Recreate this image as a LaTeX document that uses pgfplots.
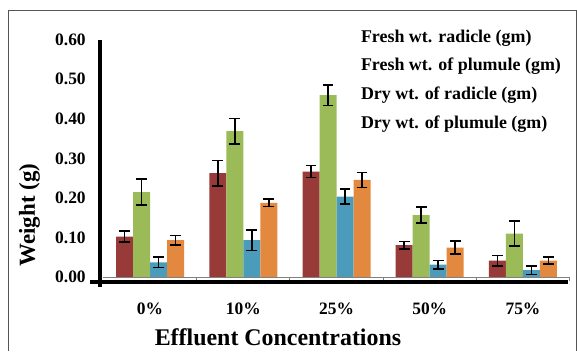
\documentclass[border=0pt]{standalone}
\usepackage{pgfplots}
\usepackage{pgfplotstable}
\pgfplotsset{compat=1.18}
\usepackage{fontspec}
\setmainfont{Liberation Serif}
\definecolor{cRed}{HTML}{983A37}
\definecolor{cGreen}{HTML}{9BBB59}
\definecolor{cBlue}{HTML}{4A9CBA}
\definecolor{cOrange}{HTML}{E2893F}
\definecolor{frameGray}{HTML}{555555}

\pgfplotstableread{
x y e
0 0.103 0.014
1 0.263 0.032
2 0.267 0.015
3 0.081 0.009
4 0.042 0.0135
}\freshRad
\pgfplotstableread{
x y e
0 0.215 0.033
1 0.369 0.032
2 0.460 0.026
3 0.157 0.020
4 0.110 0.0315
}\freshPlu
\pgfplotstableread{
x y e
0 0.038 0.013
1 0.094 0.026
2 0.204 0.019
3 0.032 0.0105
4 0.018 0.011
}\dryRad
\pgfplotstableread{
x y e
0 0.094 0.012
1 0.188 0.0097
2 0.246 0.019
3 0.075 0.016
4 0.042 0.009
}\dryPlu

\begin{document}
\begin{tikzpicture}[x=1bp,y=1bp]
\useasboundingbox (0,0) rectangle (577,351);
% outer frame (partial, as in the reference)
\draw[frameGray, line width=1bp] (8,0) -- (8,340.3) -- (576,340.3) -- (576,0);
\begin{axis}[
  at={(103.4bp,73.7bp)}, anchor=south west,
  scale only axis, width=466.2bp, height=237.6bp,
  xmin=-0.5, xmax=4.5, ymin=0, ymax=0.6,
  clip=false,
  axis line style={draw=none},
  ybar=0pt, bar width=17bp,
  xtick={0,1,2,3,4},
  xticklabels={0\%,10\%,25\%,50\%,75\%},
  major tick length=0pt,
  ytick={0,0.1,0.2,0.3,0.4,0.5,0.6},
  /pgf/number format/fixed, /pgf/number format/fixed zerofill, /pgf/number format/precision=2, /pgf/number format/assume math mode=true,
  tick label style={font=\fontsize{17.5}{20}\selectfont\bfseries},
  xticklabel style={anchor=base, yshift=-37bp, inner sep=0pt},
  yticklabel style={anchor=east, inner sep=0pt, xshift=-17.5bp},
  xlabel={Effluent Concentrations},
  ylabel={Weight (g)},
  xlabel style={at={(axis description cs:0.3745,-0.2513)}, anchor=center, font=\fontsize{24}{28}\selectfont\bfseries},
  ylabel style={at={(axis description cs:-0.1587,0.2622)}, anchor=center, font=\fontsize{23}{27}\selectfont\bfseries},
  legend image code/.code={},
  legend cell align=left,
  legend style={draw=none, fill=white, inner sep=0pt, outer sep=0pt,
    at={(axis description cs:0.5526,1.045)}, anchor=north west,
    font=\fontsize{18}{21}\selectfont\bfseries,
    row sep=11.7bp, column sep=0pt,
    nodes={inner sep=0pt, text height=13bp, text depth=4bp}},
  error bars/error bar style={line width=1.6bp, black},
  error bars/error mark options={rotate=90, mark size=5.3bp, line width=1.6bp, black},
]
\addplot[fill=cRed, draw=none, error bars/.cd, y dir=both, y explicit] table[x=x, y=y, y error=e]{\freshRad};
\addplot[fill=cGreen, draw=none, error bars/.cd, y dir=both, y explicit] table[x=x, y=y, y error=e]{\freshPlu};
\addplot[fill=cBlue, draw=none, error bars/.cd, y dir=both, y explicit] table[x=x, y=y, y error=e]{\dryRad};
\addplot[fill=cOrange, draw=none, error bars/.cd, y dir=both, y explicit] table[x=x, y=y, y error=e]{\dryPlu};
\legend{Fresh wt. radicle (gm), Fresh wt. of plumule (gm), Dry wt. of radicle (gm), Dry wt. of plumule (gm)}
% thin baseline with group separators
\draw[gray, line width=0.8bp] (axis cs:-0.5,0) -- (axis cs:4.5,0);
\draw[gray, line width=0.8bp] (axis cs:0.5,0) -- ([yshift=-4bp]axis cs:0.5,0);
\draw[gray, line width=0.8bp] (axis cs:1.5,0) -- ([yshift=-4bp]axis cs:1.5,0);
\draw[gray, line width=0.8bp] (axis cs:2.5,0) -- ([yshift=-4bp]axis cs:2.5,0);
\draw[gray, line width=0.8bp] (axis cs:3.5,0) -- ([yshift=-4bp]axis cs:3.5,0);
\draw[gray, line width=0.8bp] (axis cs:4.5,0) -- ([yshift=-4bp]axis cs:4.5,0);
% thick axis lines
\draw[black, line width=4bp] ([xshift=-3bp]axis cs:-0.5,0.6) -- ([xshift=-3bp]axis cs:-0.5,-0.025);
\draw[black, line width=4bp] ([xshift=-13bp,yshift=-4.4bp]axis cs:-0.5,0) -- ([xshift=-2bp,yshift=-4.4bp]axis cs:4.5,0);
\end{axis}
\end{tikzpicture}
\end{document}
